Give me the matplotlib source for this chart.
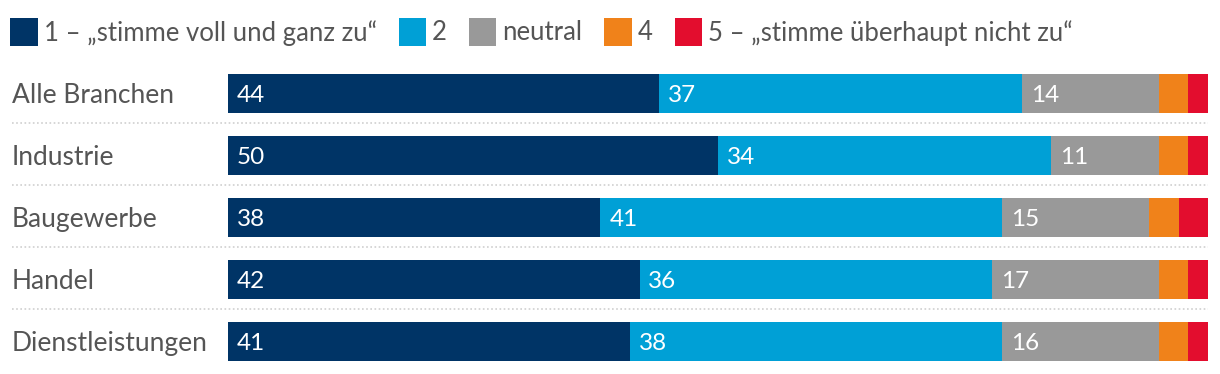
import matplotlib

matplotlib.use("Agg")
import matplotlib.pyplot as plt
import matplotlib.transforms as mtransforms
from matplotlib.patches import Rectangle
import numpy as np

CATEGORIES = ["Alle Branchen", "Industrie", "Baugewerbe", "Handel", "Dienstleistungen"]
SERIES = [
    "1 – „stimme voll und ganz zu“",
    "2",
    "neutral",
    "4",
    "5 – „stimme überhaupt nicht zu“",
]
S1 = [44, 50, 38, 42, 41]
S2 = [37, 34, 41, 36, 38]
S3 = [14, 11, 15, 17, 16]
S4 = [3, 3, 3, 3, 3]
S5 = [2, 2, 3, 2, 2]
COLORS = ["#003466", "#00a0d6", "#999999", "#f0821a", "#e30d2e"]
LABELED = [True, True, True, False, False]

FONT = "Lato"
TEXT_COLOR = "#555555"

W, H = 1220, 374
fig = plt.figure(figsize=(W / 100, H / 100), dpi=100)
ax = fig.add_axes([228 / W, 1 - 372.5 / H, 980 / W, 310 / H])

values = np.array([S1, S2, S3, S4, S5], dtype=float)
y = np.arange(len(CATEGORIES))
left = np.zeros(len(CATEGORIES))
for k, (vals, color) in enumerate(zip(values, COLORS)):
    ax.barh(y, vals, left=left, height=0.645, color=color, linewidth=0)
    if LABELED[k]:
        for yi, (l, v) in enumerate(zip(left, vals)):
            ax.text(l + 0.9, yi + 0.03, f"{int(v)}", color="white", fontsize=17.5,
                    fontfamily=FONT, va="center", ha="left")
    left += vals

ax.set_xlim(0, 100)
ax.set_ylim(len(CATEGORIES) - 0.5, -0.5)
ax.axis("off")

# category labels and dotted separators
trans = mtransforms.blended_transform_factory(fig.transFigure, ax.transData)
for yi, cat in enumerate(CATEGORIES):
    ax.text(12 / W, yi + 0.04, cat, transform=trans, fontsize=19, fontfamily=FONT,
            color=TEXT_COLOR, va="center", ha="left")
    if yi < len(CATEGORIES) - 1:
        ax.plot([12 / W, 1208 / W], [yi + 0.475, yi + 0.475], transform=trans,
                color="#cfcfcf", linewidth=1.2, linestyle=(0, (1, 1.5)), clip_on=False)

# legend row
fig.canvas.draw()
renderer = fig.canvas.get_renderer()
x = 10
sq = 27.5
ytop = 18
for name, color in zip(SERIES, COLORS):
    fig.patches.append(Rectangle((x / W, 1 - (ytop + sq) / H), sq / W, sq / H,
                                 transform=fig.transFigure, facecolor=color, linewidth=0))
    t = fig.text((x + sq + 6) / W, 1 - (ytop + sq / 2 + 1) / H, name, fontsize=18.5,
                 fontfamily=FONT, color=TEXT_COLOR, va="center", ha="left")
    tw = t.get_window_extent(renderer).width
    x = x + sq + 6 + tw + 22

fig.savefig("out.png", dpi=100)
